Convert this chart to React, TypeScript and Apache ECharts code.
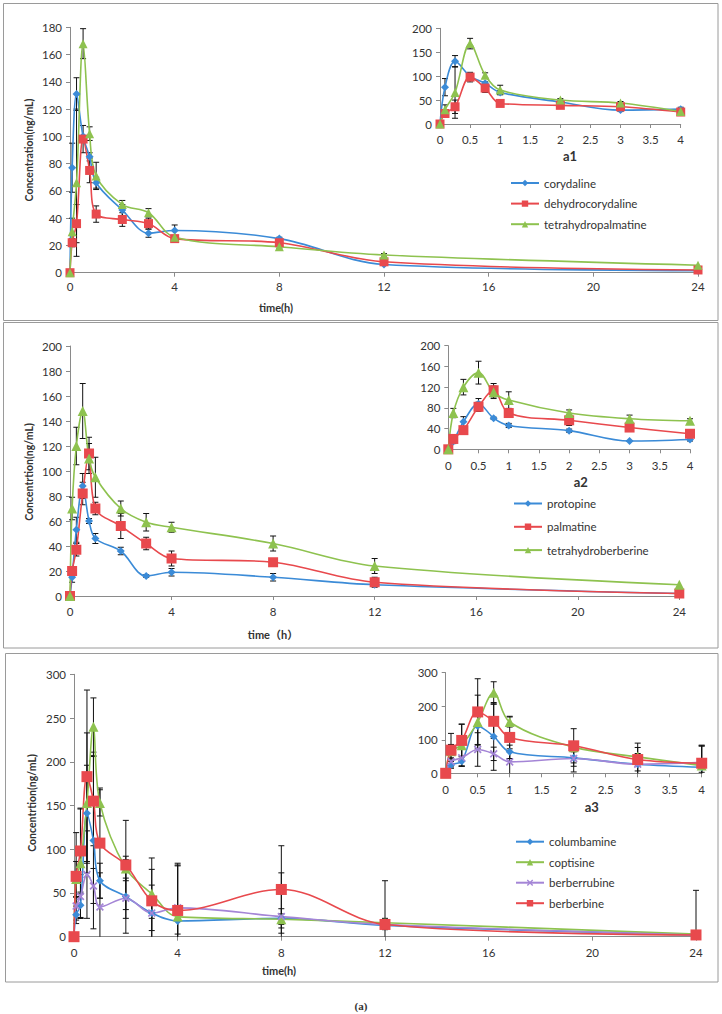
import React, { useEffect, useRef } from "react";
import * as echarts from "echarts";

// ---------- data ----------
const TIMES = [0, 0.083, 0.25, 0.5, 0.75, 1, 2, 3, 4, 8, 12, 24];

// panel a1
const corydaline = [0, 77, 131, 100, 85, 66, 46, 29, 31, 25, 6, 1.5];
const corydalineErr = [0, 18, 12, 0, 3, 4, 4, 3, 4, 1, 0, 0];
const dehydrocorydaline = [0, 22, 36, 98, 75, 43, 39, 36, 25, 22, 8, 2];
const dehydrocorydalineErr = [0, 3, 14, 10, 9, 6, 5, 4, 1, 1, 1, 0];
const tetrahydropalmatine = [0, 30, 66, 168, 102, 71, 50, 44, 26, 19, 13, 5.5];
const tetrahydropalmatineErr = [0, 10, 54, 11, 5, 10, 3, 3, 1, 1, 1, 0];

// panel a2
const protopine = [0, 15, 53, 88, 60, 46, 36, 16, 19, 15, 9, 2];
const protopineErr = [0, 4, 10, 10, 2, 4, 3, 1, 3, 3, 0, 0];
const palmatine = [0, 20, 37, 82, 114, 70, 56, 42, 30, 27, 11, 2];
const palmatineErr = [0, 3, 5, 9, 13, 5, 10, 5, 6, 2, 4, 0];
const tetrahydroberberine = [0, 70, 120, 148, 110, 95, 70, 59, 55, 42, 24, 9];
const tetrahydroberberineErr = [0, 9, 15, 22, 12, 16, 6, 7, 4, 6, 6, 0];

// panel a3
const columbamine = [0, 25, 36, 141, 110, 64, 46, 27, 18, 21, 13, 2];
const columbamineErr = [0, 10, 15, 55, 101, 20, 42, 20, 15, 11, 5, 0];
const coptisine = [0, 66, 84, 153, 240, 153, 78, 49, 23, 20, 16, 3];
const coptisineErr = [0, 20, 62, 80, 33, 15, 14, 28, 59, 6, 5, 0];
const berberrubine = [0, 35, 46, 71, 58, 34, 44, 27, 33, 23, 14, 2];
const berberrubineErr = [0, 10, 25, 50, 20, 39, 23, 32, 48, 50, 5, 0];
const berberbine = [0, 69, 98, 183, 155, 107, 82, 41, 30, 54, 14, 2];
const berberbineErr = [0, 50, 49, 99, 51, 63, 51, 49, 54, 50, 50, 51];

const MAIN_X_TICKS = { min: 0, max: 24, interval: 4 };
const INSET_X_TICKS = { min: 0, max: 4, interval: 0.5 };
const INSET_X_LABELS = ["0", "0.5", "1", "1.5", "2", "2.5", "3", "3.5", "4"];

// ---------- styles ----------
const FONT = "Lato, 'Noto Sans CJK SC', sans-serif";
const BLUE = "#3B8BD7";
const RED = "#E8494D";
const GREEN = "#8EC24F";
const PURPLE = "#A485D6";
const AXIS = "#8a8a8a";
const TXT = "#333333";
const XMARK =
  "path://M1.5,0 L5,3.5 L8.5,0 L10,1.5 L6.5,5 L10,8.5 L8.5,10 L5,6.5 L1.5,10 L0,8.5 L3.5,5 L0,1.5 Z";

type S = { name: string; v: number[]; e: number[]; color: string; symbol: string; size: number };

const PANEL1: S[] = [
  { name: "corydaline", v: corydaline, e: corydalineErr, color: BLUE, symbol: "diamond", size: 8 },
  { name: "dehydrocorydaline", v: dehydrocorydaline, e: dehydrocorydalineErr, color: RED, symbol: "rect", size: 9 },
  { name: "tetrahydropalmatine", v: tetrahydropalmatine, e: tetrahydropalmatineErr, color: GREEN, symbol: "triangle", size: 9 },
];
const PANEL2: S[] = [
  { name: "protopine", v: protopine, e: protopineErr, color: BLUE, symbol: "diamond", size: 8 },
  { name: "palmatine", v: palmatine, e: palmatineErr, color: RED, symbol: "rect", size: 10 },
  { name: "tetrahydroberberine", v: tetrahydroberberine, e: tetrahydroberberineErr, color: GREEN, symbol: "triangle", size: 10 },
];
const PANEL3: S[] = [
  { name: "columbamine", v: columbamine, e: columbamineErr, color: BLUE, symbol: "diamond", size: 8 },
  { name: "coptisine", v: coptisine, e: coptisineErr, color: GREEN, symbol: "triangle", size: 10 },
  { name: "berberrubine", v: berberrubine, e: berberrubineErr, color: PURPLE, symbol: XMARK, size: 8 },
  { name: "berberbine", v: berberbine, e: berberbineErr, color: RED, symbol: "rect", size: 11 },
];

function lineSeries(s: S, idx: number, inset: boolean) {
  const data = TIMES.map((t, i) => [t, s.v[i]]).filter((d) => !inset || d[0] <= 4);
  return {
    type: "line",
    name: s.name,
    xAxisIndex: idx,
    yAxisIndex: idx,
    data,
    smooth: 0.35,
    symbol: s.symbol,
    symbolSize: s.size,
    lineStyle: { color: s.color, width: 1.6 },
    itemStyle: { color: s.color },
    z: 3,
  };
}

function errSeries(list: S[], idx: number, inset: boolean) {
  const data: number[][] = [];
  list.forEach((s) => {
    TIMES.forEach((t, i) => {
      if (inset && t > 4) return;
      if (!s.e[i]) return;
      data.push([t, Math.max(0, s.v[i] - s.e[i]), s.v[i] + s.e[i]]);
    });
  });
  return {
    type: "custom",
    xAxisIndex: idx,
    yAxisIndex: idx,
    data,
    encode: { x: 0, y: [1, 2] },
    z: 2,
    silent: true,
    renderItem: (params: any, api: any) => {
      const x = api.value(0);
      const lo = api.value(1);
      const hi = api.value(2);
      const top = api.coord([x, hi]);
      const bot = api.coord([x, lo]);
      const w = 3;
      const st = { stroke: "#111", lineWidth: 1 };
      const children: any[] = [
        { type: "line", shape: { x1: top[0], y1: top[1], x2: bot[0], y2: bot[1] }, style: st },
        { type: "line", shape: { x1: top[0] - w, y1: top[1], x2: top[0] + w, y2: top[1] }, style: st },
      ];
      if (lo > 0)
        children.push({ type: "line", shape: { x1: bot[0] - w, y1: bot[1], x2: bot[0] + w, y2: bot[1] }, style: st });
      return { type: "group", children };
    },
  };
}

function xAxis(gridIndex: number, ticks: any, margin: number, labels?: string[]) {
  return {
    type: "value",
    gridIndex,
    ...ticks,
    axisLine: { show: true, onZero: false, lineStyle: { color: AXIS, width: 1 } },
    axisTick: { show: true, length: 4, lineStyle: { color: AXIS } },
    axisLabel: {
      color: TXT,
      fontSize: 11.5,
      fontFamily: FONT,
      margin,
      formatter: labels
        ? (v: any, i: number) => {
            const n = Math.round(parseFloat(String(v)) / ticks.interval);
            return labels[n] !== undefined ? labels[n] : String(v);
          }
        : undefined,
    },
    splitLine: { show: false },
  };
}
function yAxis(gridIndex: number, max: number, interval: number) {
  return {
    type: "value",
    gridIndex,
    min: 0,
    max,
    interval,
    axisLine: { show: true, lineStyle: { color: AXIS, width: 1 } },
    axisTick: { show: true, length: 4, lineStyle: { color: AXIS } },
    axisLabel: { color: TXT, fontSize: 11.5, fontFamily: FONT, margin: 8 },
    splitLine: { show: false },
  };
}

function legend(list: S[], left: number, top: number, gap: number) {
  return {
    data: list.map((s) => s.name),
    orient: "vertical",
    left,
    top,
    itemWidth: 28,
    itemHeight: 8,
    itemGap: gap,
    selectedMode: false,
    textStyle: { fontFamily: FONT, fontSize: 11.5, color: TXT, lineHeight: 14 },
  };
}

function text(x: number, y: number, str: string, size: number, rot = 0, weight = "bold", family = FONT) {
  return {
    type: "text",
    x,
    y,
    rotation: rot,
    style: {
      text: str,
      fill: TXT,
      font: `${weight} ${size}px ${family}`,
      textAlign: "center",
      textVerticalAlign: "middle",
    },
  };
}

function rect(x: number, y: number, w: number, h: number) {
  return {
    type: "rect",
    shape: { x, y, width: w, height: h },
    style: { fill: "none", stroke: "#9a9a9a", lineWidth: 1 },
    silent: true,
  };
}

export default function App() {
  const ref = useRef<HTMLDivElement>(null);
  useEffect(() => {
    if (!ref.current) return;
    const chart = echarts.init(ref.current, undefined, { renderer: "svg" });
    const option: any = {
      animation: false,
      backgroundColor: "#ffffff",
      grid: [
        { left: 70, top: 27.3, width: 628, height: 245.4 },
        { left: 440, top: 28.3, width: 240.7, height: 95.7 },
        { left: 70, top: 346, width: 609.3, height: 250 },
        { left: 448.3, top: 345.7, width: 241.7, height: 103.6 },
        { left: 74, top: 674.3, width: 622, height: 262.4 },
        { left: 445.7, top: 672.7, width: 256, height: 100.6 },
      ],
      xAxis: [
        xAxis(0, MAIN_X_TICKS, 8),
        xAxis(1, INSET_X_TICKS, 10, INSET_X_LABELS),
        xAxis(2, MAIN_X_TICKS, 10),
        xAxis(3, INSET_X_TICKS, 10, INSET_X_LABELS),
        xAxis(4, MAIN_X_TICKS, 10),
        xAxis(5, INSET_X_TICKS, 10, INSET_X_LABELS),
      ],
      yAxis: [
        yAxis(0, 180, 20),
        yAxis(1, 200, 50),
        yAxis(2, 200, 20),
        yAxis(3, 200, 40),
        yAxis(4, 300, 50),
        yAxis(5, 300, 100),
      ],
      legend: [legend(PANEL1, 505, 171, 6.6), legend(PANEL2, 508, 491.5, 9.3), legend(PANEL3, 510, 829.7, 6.5)],
      series: [
        errSeries(PANEL1, 0, false),
        ...PANEL1.map((s) => lineSeries(s, 0, false)),
        errSeries(PANEL1, 1, true),
        ...PANEL1.map((s) => lineSeries(s, 1, true)),
        errSeries(PANEL2, 2, false),
        ...PANEL2.map((s) => lineSeries(s, 2, false)),
        errSeries(PANEL2, 3, true),
        ...PANEL2.map((s) => lineSeries(s, 3, true)),
        errSeries(PANEL3, 4, false),
        ...PANEL3.map((s) => lineSeries(s, 4, false)),
        errSeries(PANEL3, 5, true),
        ...PANEL3.map((s) => lineSeries(s, 5, true)),
      ],
      graphic: [
        rect(3.5, 3.5, 714.5, 317),
        rect(3.5, 322.5, 714.5, 325.5),
        rect(5.5, 653.5, 712.5, 328.5),
        text(29, 150, "Concentration(ng/mL)", 10.5, Math.PI / 2),
        text(276, 307, "time(h)", 11),
        text(570, 156, "a1", 13),
        text(29, 472, "Concentrtion(ng/mL)", 10.5, Math.PI / 2),
        text(273, 634, "time（h）", 11),
        text(580.7, 481.7, "a2", 13),
        text(32, 803, "Concentrtion(ng/mL)", 10.5, Math.PI / 2),
        text(279, 970.7, "time(h)", 11),
        text(591.7, 806.7, "a3", 13),
        text(361, 1006, "(a)", 11, 0, "bold", "'Liberation Serif', serif"),
      ],
    };
    chart.setOption(option);
    return () => chart.dispose();
  }, []);
  return (
    <div
      ref={ref}
      style={{ position: "absolute", left: 0, top: 0, width: 722, height: 1014, background: "#fff" }}
    />
  );
}
